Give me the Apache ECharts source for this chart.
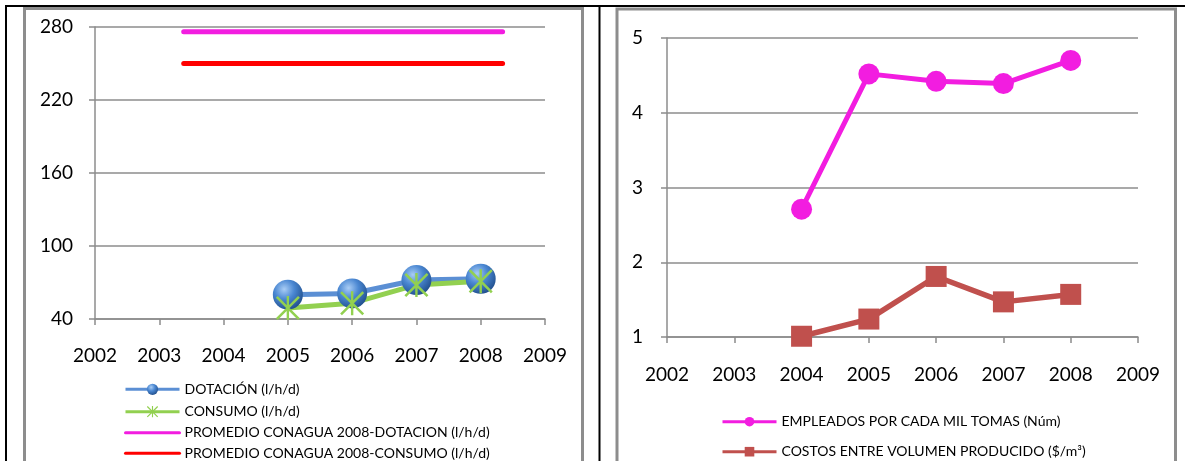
<!DOCTYPE html>
<html><head><meta charset="utf-8">
<script src="https://cdn.jsdelivr.net/npm/echarts@6/dist/echarts.min.js"></script>
<style>html,body{margin:0;padding:0;background:#fff;overflow:hidden}#c{width:1185px;height:461px}</style>
</head><body><div id="c"></div>
<script>
// ---- data (left chart) ----
const yearsLeft = [2005, 2006, 2007, 2008];
const dotacion = [60, 61, 72, 73];
const consumo = [49, 53, 68, 71];
const promedioSpan = [2003.38, 2008.34];
const promedioDotacion = 276;
const promedioConsumo = 250;
const leftNames = ['DOTACIÓN (l/h/d)', 'CONSUMO (l/h/d)', 'PROMEDIO CONAGUA 2008-DOTACION (l/h/d)', 'PROMEDIO CONAGUA 2008-CONSUMO (l/h/d)'];
// ---- data (right chart) ----
const yearsRight = [2004, 2005, 2006, 2007, 2008];
const empleados = [2.71, 4.52, 4.42, 4.39, 4.70];
const costos = [1.01, 1.24, 1.81, 1.47, 1.57];
const rightNames = ['EMPLEADOS POR CADA MIL TOMAS (Núm)', 'COSTOS ENTRE VOLUMEN PRODUCIDO ($/m³)'];
// ---- axes ----
const xRange = [2002, 2009];
const leftYRange = [40, 280, 60];
const rightYRange = [1, 5, 1];

const FONT = 'Lato';
const gray = '#8c8c8c';
const pair = (xs, ys) => xs.map((x, i) => [x, ys[i]]);
const starPath = 'path://M9,0L11,0L11,20L9,20Z M0,1.5L1.5,0L20,18.5L18.5,20Z M18.5,0L20,1.5L1.5,20L0,18.5Z';

function xAxis(grid, margin) {
  return {
    type: 'value', gridIndex: grid, min: xRange[0], max: xRange[1], interval: 1,
    axisLine: { show: true, lineStyle: { color: gray, width: 1.5 } },
    axisTick: { show: true, length: 6, lineStyle: { color: gray, width: 1.5 } },
    splitLine: { show: false },
    axisLabel: { margin: margin, color: '#000', fontFamily: FONT, fontSize: 19, formatter: v => String(v) }
  };
}
function yAxis(grid, r, margin) {
  return {
    type: 'value', gridIndex: grid, min: r[0], max: r[1], interval: r[2],
    axisLine: { show: true, lineStyle: { color: gray, width: 1.5 } },
    axisTick: { show: true, length: 6, lineStyle: { color: gray, width: 1.5 } },
    splitLine: { show: true, lineStyle: { color: gray, width: 1.5 } },
    axisLabel: { margin: margin, color: '#000', fontFamily: FONT, fontSize: 19 }
  };
}
function legendItem(name, left, centerY, h, hideSymbol) {
  const l = {
    orient: 'horizontal', left: left, top: centerY - 10, height: 20, itemWidth: 54, itemHeight: h,
    data: [name], selectedMode: false, padding: [3, 0, 3, 0],
    lineStyle: { width: 3 },
    textStyle: { fontFamily: FONT, fontSize: 14, color: '#000' }
  };
  if (hideSymbol) l.itemStyle = { opacity: 0 };
  return l;
}

const leftLegendY = [389.3, 411.7, 432.7, 453.3];
const rightLegendY = [421.7, 451.7];

const chart = echarts.init(document.getElementById('c'), null, { renderer: 'canvas' });
chart.setOption({
  animation: false,
  backgroundColor: '#fff',
  grid: [
    { left: 95, top: 27, width: 450, height: 292 },
    { left: 667, top: 38, width: 471, height: 299 }
  ],
  xAxis: [xAxis(0, 27), xAxis(1, 28)],
  yAxis: [yAxis(0, leftYRange, 22), yAxis(1, rightYRange, 24)],
  legend: leftNames.map((n, i) => legendItem(n, 124, leftLegendY[i], 14, i >= 2))
    .concat(rightNames.map((n, i) => legendItem(n, 721, rightLegendY[i], 12, false))),
  graphic: [
    { type: 'line', shape: { x1: 5, y1: 6, x2: 1185, y2: 6 }, style: { stroke: '#000', lineWidth: 2 } },
    { type: 'line', shape: { x1: 6, y1: 5, x2: 6, y2: 461 }, style: { stroke: '#000', lineWidth: 2 } },
    { type: 'line', shape: { x1: 599.5, y1: 5, x2: 599.5, y2: 461 }, style: { stroke: '#000', lineWidth: 2 } },
    { type: 'rect', shape: { x: 24.5, y: 8.5, width: 558, height: 500 }, style: { stroke: '#8d8d8d', lineWidth: 3, fill: 'none' } },
    { type: 'rect', shape: { x: 617, y: 9, width: 558.5, height: 500 }, style: { stroke: '#8d8d8d', lineWidth: 3, fill: 'none' } }
  ],
  series: [
    {
      name: leftNames[0], type: 'line', xAxisIndex: 0, yAxisIndex: 0,
      data: pair(yearsLeft, dotacion), symbol: 'circle', symbolSize: 30,
      itemStyle: { color: new echarts.graphic.RadialGradient(0.38, 0.32, 0.75, [
        { offset: 0, color: '#a9cdf5' }, { offset: 0.45, color: '#4a87d2' }, { offset: 1, color: '#1d4a86' }]) },
      lineStyle: { color: '#5b8fd4', width: 5 }
    },
    {
      name: leftNames[1], type: 'line', xAxisIndex: 0, yAxisIndex: 0,
      data: pair(yearsLeft, consumo), symbol: starPath, symbolSize: 24,
      itemStyle: { color: '#92d050' },
      lineStyle: { color: '#92d050', width: 5 }
    },
    {
      name: leftNames[2], type: 'line', xAxisIndex: 0, yAxisIndex: 0,
      data: promedioSpan.map(x => [x, promedioDotacion]), symbol: 'none',
      itemStyle: { color: '#f21de0' },
      lineStyle: { color: '#f21de0', width: 5, cap: 'round' }
    },
    {
      name: leftNames[3], type: 'line', xAxisIndex: 0, yAxisIndex: 0,
      data: promedioSpan.map(x => [x, promedioConsumo]), symbol: 'none',
      itemStyle: { color: '#ff0000' },
      lineStyle: { color: '#ff0000', width: 5, cap: 'round' }
    },
    {
      name: rightNames[0], type: 'line', xAxisIndex: 1, yAxisIndex: 1,
      data: pair(yearsRight, empleados), symbol: 'circle', symbolSize: 21,
      itemStyle: { color: '#f21de0' },
      lineStyle: { color: '#f21de0', width: 5 }
    },
    {
      name: rightNames[1], type: 'line', xAxisIndex: 1, yAxisIndex: 1,
      data: pair(yearsRight, costos), symbol: 'rect', symbolSize: 21,
      itemStyle: { color: '#c0504d' },
      lineStyle: { color: '#c0504d', width: 5.5 }
    }
  ]
});
</script>
</body></html>
